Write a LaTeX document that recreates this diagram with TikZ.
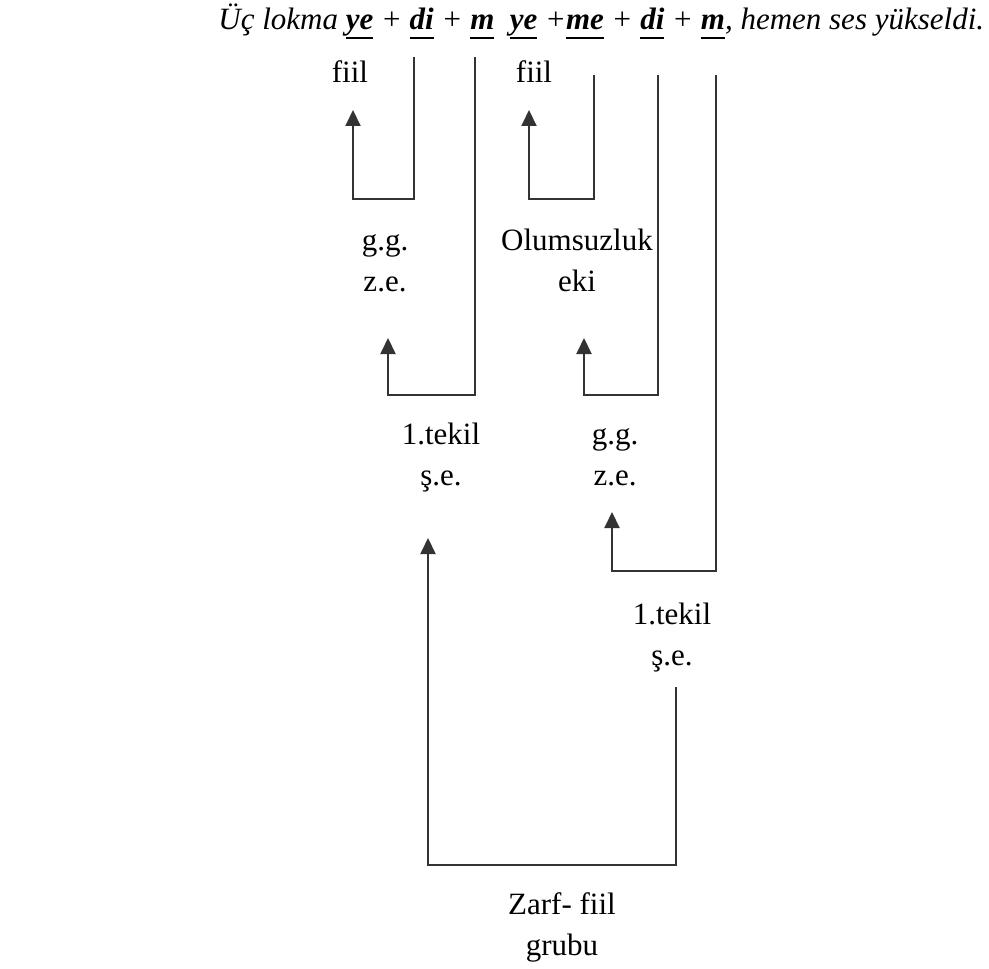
\documentclass[tikz,border=0pt]{standalone}
\usepackage{fontspec}
\setmainfont{Liberation Serif}
\usetikzlibrary{arrows.meta}
\newsavebox{\ulbox}
\newcommand{\mrf}[1]{\sbox\ulbox{\textbf{#1}}\rlap{\rule[-4.3pt]{\wd\ulbox}{1pt}}\usebox\ulbox}
\begin{document}
\begin{tikzpicture}[x=0.5pt,y=-0.5pt,
  lbl/.style={anchor=base, inner sep=0pt, align=center,
    font=\fontsize{15.5pt}{20.5pt}\selectfont},
  conn/.style={draw=black!80, line width=1pt,
    -{Triangle[length=8pt,width=7.5pt]}}]
\useasboundingbox (0,0) rectangle (989,968);
% sentence
\node[anchor=base west, inner sep=0pt,
  font=\fontsize{15.5pt}{20.5pt}\selectfont\itshape] (sent) at (218,30)
  {Üç lokma \mrf{ye} + \mrf{di} + \mrf{m}\ \ \mrf{ye} +\mrf{me} + \mrf{di} + \mrf{m}, hemen ses yükseldi.};
% labels (base = baseline of the last line)
\node[lbl] (fiilA) at (350,83) {fiil};
\node[lbl] (fiilB) at (534,83) {fiil};
\node[lbl] (ggA) at (385,291) {g.g.\\z.e.};
\node[lbl] (olum) at (577,291) {Olumsuzluk\\eki};
\node[lbl] (tekA) at (441,485) {1.tekil\\ş.e.};
\node[lbl] (ggB) at (615,485) {g.g.\\z.e.};
\node[lbl] (tekB) at (672,665) {1.tekil\\ş.e.};
\node[lbl] (zarf) at (562,955) {Zarf- fiil\\grubu};
% connector coordinates
\coordinate (s1) at (414,57);  \coordinate (c1) at (353,199); \coordinate (a1) at (353,110);
\coordinate (s2) at (475,57);  \coordinate (c2) at (388,395); \coordinate (a2) at (388,338);
\coordinate (s3) at (594,75);  \coordinate (c3) at (529,199); \coordinate (a3) at (529,110);
\coordinate (s4) at (658,75);  \coordinate (c4) at (584,395); \coordinate (a4) at (584,338);
\coordinate (s5) at (716,75);  \coordinate (c5) at (612,571); \coordinate (a5) at (612,512);
\coordinate (s6) at (676,687); \coordinate (c6) at (428,865); \coordinate (a6) at (428,538);
\draw[conn] (s1) |- (c1) -- (a1);
\draw[conn] (s2) |- (c2) -- (a2);
\draw[conn] (s3) |- (c3) -- (a3);
\draw[conn] (s4) |- (c4) -- (a4);
\draw[conn] (s5) |- (c5) -- (a5);
\draw[conn] (s6) |- (c6) -- (a6);
\end{tikzpicture}
\end{document}
